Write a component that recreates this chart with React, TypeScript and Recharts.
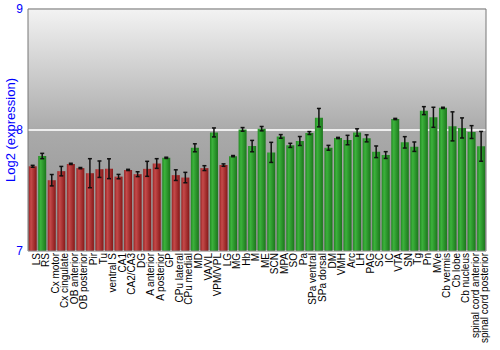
import React from 'react';
import { BarChart, Bar, XAxis, YAxis, CartesianGrid, ErrorBar, Cell, ReferenceLine } from 'recharts';

const categories = ['LS', 'RS', 'Cx motor', 'Cx cingulate', 'OB anterior', 'OB posterior', 'Pir', 'Tu', 'ventral S', 'CA1', 'CA2/CA3', 'DG', 'A anterior', 'A posterior', 'GP', 'CPu lateral', 'CPu medial', 'MD', 'VA/VL', 'VPM/VPL', 'LG', 'MG', 'Hb', 'M', 'ME', 'SCN', 'MPA', 'SO', 'Pa', 'SPa ventral', 'SPa dorsal', 'DM', 'VMH', 'Arc', 'LH', 'PAG', 'SC', 'IC', 'VTA', 'SN', 'Tg', 'Pn', 'MVe', 'Cb vermis', 'Cb lobe', 'Cb nucleus', 'spinal cord anterior', 'spinal cord posterior'];

const values = [7.70, 7.785, 7.585, 7.66, 7.72, 7.685, 7.643, 7.676, 7.68, 7.615, 7.67, 7.635, 7.679, 7.723, 7.77, 7.627, 7.607, 7.853, 7.685, 7.98, 7.71, 7.784, 8.005, 7.867, 8.011, 7.815, 7.947, 7.873, 7.909, 7.975, 8.102, 7.853, 7.934, 7.917, 7.98, 7.931, 7.82, 7.793, 8.091, 7.898, 7.862, 8.16, 8.105, 8.183, 8.03, 8.017, 7.983, 7.865];

const errors = [0.008, 0.022, 0.047, 0.039, 0.005, 0.005, 0.12, 0.068, 0.082, 0.018, 0.005, 0.02, 0.062, 0.04, 0.005, 0.044, 0.043, 0.033, 0.02, 0.037, 0.01, 0.005, 0.015, 0.047, 0.018, 0.083, 0.015, 0.017, 0.037, 0.012, 0.076, 0.02, 0.005, 0.039, 0.03, 0.029, 0.048, 0.028, 0.005, 0.047, 0.039, 0.033, 0.083, 0.005, 0.12, 0.083, 0.053, 0.123];

const groups = ['red', 'green', 'red', 'red', 'red', 'red', 'red', 'red', 'red', 'red', 'red', 'red', 'red', 'red', 'green', 'red', 'red', 'green', 'red', 'green', 'red', 'green', 'green', 'green', 'green', 'green', 'green', 'green', 'green', 'green', 'green', 'green', 'green', 'green', 'green', 'green', 'green', 'green', 'green', 'green', 'green', 'green', 'green', 'green', 'green', 'green', 'green', 'green'];

const yTicks = [7, 8, 9];

const data = categories.map((name, i) => ({ name, value: values[i], err: errors[i], group: groups[i] }));

const FONT = '"Liberation Sans", Arial, sans-serif';

const XTick = (props: any) => {
  const { x, y, payload } = props;
  return (
    <g transform={`translate(${x},${y + 2})`}>
      <text transform="rotate(-90)" textAnchor="end" x={0} y={0} dy={7} fontSize={10} fontFamily={FONT} fill="#000">
        {payload.value}
      </text>
    </g>
  );
};

export default function App() {
  return (
    <div style={{ position: 'absolute', left: 0, top: 0, width: 500, height: 350, background: '#fff' }}>
      <BarChart width={500} height={350} data={data} margin={{ top: 9, right: 0, bottom: 0, left: 0 }} barCategoryGap="7%">
        <defs>
          <linearGradient id="bgGrad" x1="0" y1="0" x2="0" y2="1">
            <stop offset="0%" stopColor="#f3f3f3" />
            <stop offset="50%" stopColor="#aaaaaa" />
            <stop offset="100%" stopColor="#8f8f8f" />
          </linearGradient>
          <linearGradient id="redGrad" x1="0" y1="0" x2="1" y2="0">
            <stop offset="0%" stopColor="#9a2424" />
            <stop offset="30%" stopColor="#c54a4a" />
            <stop offset="100%" stopColor="#861818" />
          </linearGradient>
          <linearGradient id="greenGrad" x1="0" y1="0" x2="1" y2="0">
            <stop offset="0%" stopColor="#228a22" />
            <stop offset="30%" stopColor="#3cb23c" />
            <stop offset="100%" stopColor="#1b761b" />
          </linearGradient>
        </defs>
        <CartesianGrid yAxisId="left" vertical={false} fill="url(#bgGrad)" stroke="#eeeeee" strokeWidth={2} />
        <XAxis dataKey="name" interval={0} height={99} tickLine={false} tickSize={0} tickMargin={0} axisLine={{ stroke: '#888' }} tick={<XTick />} />
        <YAxis yAxisId="left" orientation="left" width={28} domain={[7, 9]} ticks={yTicks} tickLine={false} tickSize={0} tickMargin={5}
          axisLine={{ stroke: '#777' }}
          tick={{ fill: '#0000ff', fontSize: 12, fontFamily: FONT }}
          label={{
            content: () => (
              <text x={10} y={130} transform="rotate(-90 10 130)" textAnchor="middle" dominantBaseline="central" fill="#0000ff" fontSize={13} fontFamily={FONT}>
                Log2 (expression)
              </text>
            ),
          }}
        />
        <YAxis yAxisId="right" orientation="right" width={14} domain={[7, 9]} ticks={yTicks} tickSize={3} tickMargin={1}
          axisLine={{ stroke: '#777' }} tickLine={{ stroke: '#555' }}
          tick={{ fill: '#0000ff', fontSize: 12, fontFamily: FONT }} />
        <ReferenceLine yAxisId="left" y={9} stroke="#777" strokeWidth={1} />
        <Bar yAxisId="left" dataKey="value" isAnimationActive={false}>
          {data.map((d, i) => (
            <Cell key={i} fill={d.group === 'red' ? 'url(#redGrad)' : 'url(#greenGrad)'} />
          ))}
          <ErrorBar dataKey="err" width={2} stroke="#111" strokeWidth={1.5} isAnimationActive={false} />
        </Bar>
      </BarChart>
    </div>
  );
}
